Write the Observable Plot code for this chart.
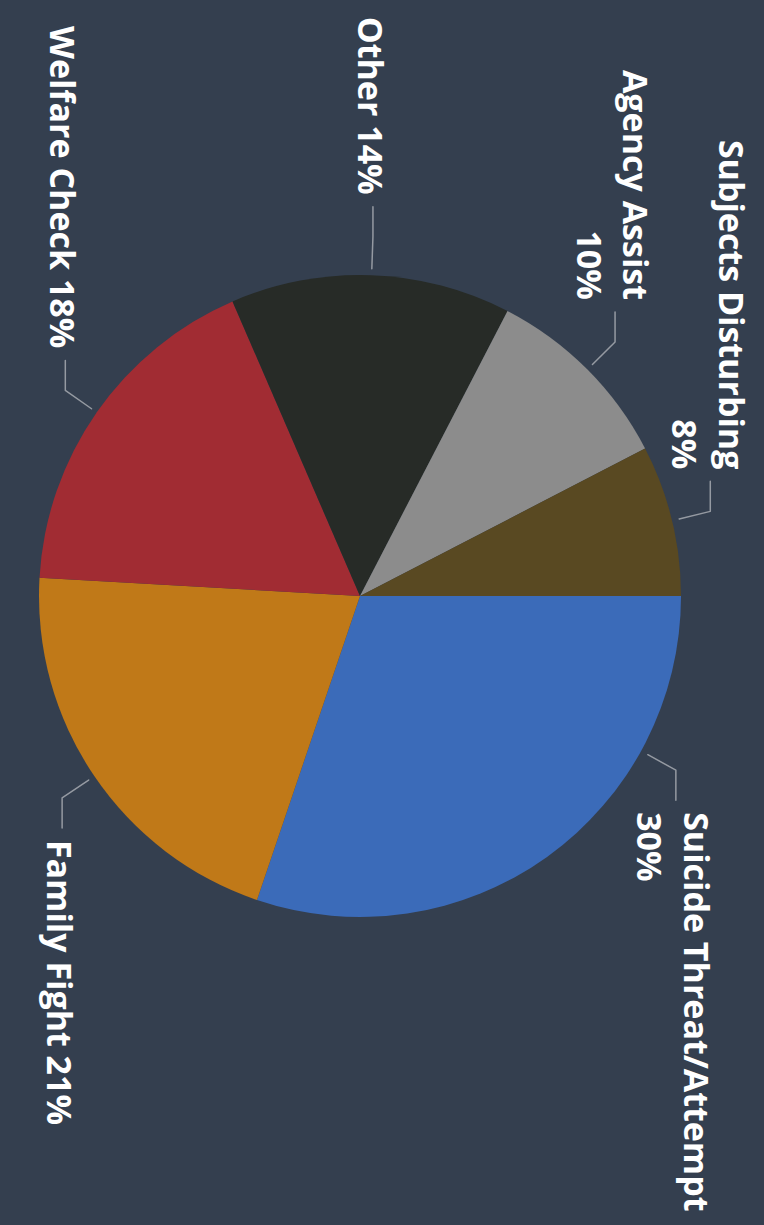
<!DOCTYPE html>
<html><head><meta charset="utf-8">
<script src="https://cdn.jsdelivr.net/npm/d3@7"></script>
<script src="https://cdn.jsdelivr.net/npm/@observablehq/plot@0.6"></script>
<style>
html,body{margin:0;padding:0;background:#343f4f;}
#chart{width:764px;height:1225px;overflow:hidden;}
</style></head><body><div id="chart"></div>
<script>
// ---- data ----
const categories = ["Suicide Threat/Attempt", "Family Fight", "Welfare Check", "Other", "Agency Assist", "Subjects Disturbing"];
const shares = [30.2, 20.7, 17.6, 14.1, 9.8, 7.6];
const sliceColors = ["#3b6bb9", "#c07918", "#a12c33", "#272b27", "#8c8c8c", "#594922"];

// ---- layout / style ----
const W = 764, H = 1225;
const CX = 360, CY = 596, R = 321;
const BG = "#343f4f";
const FONT = "'Open Sans', sans-serif";
const FONT_SIZE = 34, FONT_WEIGHT = 700, LINE_H = 1.38;
const LEAD_IN = 7, LEAD_OUT = 39, ARM = 30, GAP = 12, EDGE = 14, MAX_LINE = 340;

const total = d3.sum(shares);
const rows = categories.map((c, i) => ({category: c, value: shares[i], pct: Math.round(shares[i] / total * 100)}));
const arcs = d3.pie().sort(null).value(d => d.value)(rows);
const colorScale = Plot.scale({color: {type: "ordinal", domain: categories, range: sliceColors}});

const ctx = document.createElement("canvas").getContext("2d");
ctx.font = `${FONT_WEIGHT} ${FONT_SIZE}px ${FONT}`;
const tw = s => ctx.measureText(s).width;

// label layout (angle 0 = pointing right, clockwise); positions in unit-radius space
const leaders = [], labelsDown = [], labelsUp = [];
for (const a of arcs) {
  let ang = (a.startAngle + a.endAngle) / 2;
  const down = Math.sin(ang) >= 0;
  const r2 = R + LEAD_OUT;
  const room = t => down ? (H - EDGE) - (CY + r2 * Math.sin(t) + ARM + GAP)
                         : (CY + r2 * Math.sin(t) - ARM - GAP) - EDGE;
  const one = `${a.data.category} ${a.data.pct}%`;
  const wrap = tw(one) > MAX_LINE || tw(one) > room(ang);
  const lines = wrap ? [a.data.category, `${a.data.pct}%`] : [one];
  const L = d3.max(lines, tw);
  if (L > room(ang)) {
    const s = down ? ((H - EDGE) - ARM - GAP - L - CY) / r2 : (EDGE + ARM + GAP + L - CY) / r2;
    const base = Math.asin(Math.max(-1, Math.min(1, s)));
    ang = Math.cos(ang) >= 0 ? base : Math.PI - base;
  }
  const c = Math.cos(ang), s = Math.sin(ang), sg = down ? 1 : -1;
  const k1 = (R + LEAD_IN) / R, k2 = (R + LEAD_OUT) / R;
  const ex = k2 * c, ey = k2 * s;
  leaders.push({category: a.data.category, x: k1 * c, y: k1 * s});
  leaders.push({category: a.data.category, x: ex, y: ey});
  leaders.push({category: a.data.category, x: ex, y: ey + sg * ARM / R});
  (down ? labelsDown : labelsUp).push({x: ex, y: ey + sg * (ARM + GAP) / R, text: lines.join("\n")});
}

function slices(index, scales) {
  const sx = scales && typeof scales.x === "function" ? scales.x : v => CX + v * R;
  const sy = scales && typeof scales.y === "function" ? scales.y : v => CY + v * R;
  const cx = sx(0), cy = sy(0), r = sx(1) - sx(0);
  const arc = d3.arc().innerRadius(0).outerRadius(r);
  const g = d3.create("svg:g");
  g.selectAll("path").data(arcs).join("path")
    .attr("transform", `translate(${cx},${cy})`)
    .attr("d", d => arc({startAngle: d.startAngle + Math.PI / 2, endAngle: d.endAngle + Math.PI / 2}))
    .attr("fill", d => colorScale.apply(d.data.category));
  return g.node();
}

const textOpts = {
  x: "x", y: "y", text: "text", rotate: 90, lineAnchor: "middle",
  fill: "#ffffff", fontSize: FONT_SIZE, fontWeight: FONT_WEIGHT, fontFamily: FONT, lineHeight: LINE_H
};

const chart = Plot.plot({
  width: W, height: H, margin: 0,
  style: {background: BG, fontFamily: FONT},
  x: {type: "linear", domain: [-1, 1], range: [CX - R, CX + R], axis: null},
  y: {type: "linear", domain: [-1, 1], range: [CY - R, CY + R], axis: null},
  marks: [
    slices,
    Plot.line(leaders, {x: "x", y: "y", z: "category", stroke: "#959aa2", strokeWidth: 1.5}),
    Plot.text(labelsDown, {...textOpts, textAnchor: "start"}),
    Plot.text(labelsUp, {...textOpts, textAnchor: "end"})
  ]
});
document.getElementById("chart").appendChild(chart);
</script>
</body></html>
